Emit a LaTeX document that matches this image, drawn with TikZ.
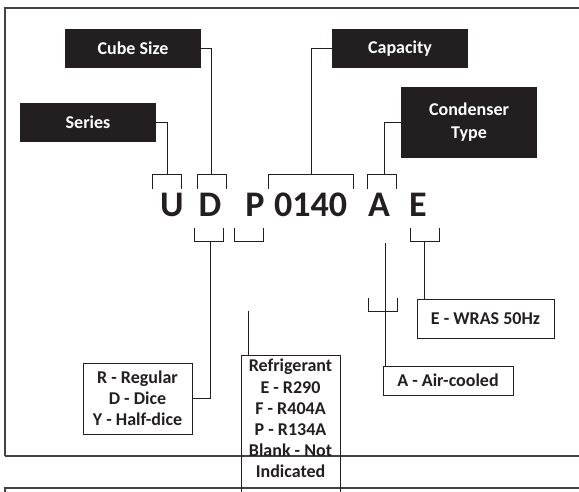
\documentclass[tikz,border=0pt]{standalone}
\usepackage{fontspec}
\setmainfont{Carlito}
\definecolor{ink}{HTML}{231F20}
\tikzset{
  blackbox/.style={fill=ink, text=white, font=\fontsize{18}{23}\selectfont\bfseries, minimum width=136pt, minimum height=39pt, inner sep=0pt, align=center},
  whitebox/.style={draw=ink, line width=1pt, fill=white, text=ink, font=\fontsize{18}{21}\selectfont\bfseries, inner sep=0pt, align=center},
  conn/.style={draw=ink, line width=1pt},
  framel/.style={draw=ink!85, line width=1.4pt},
  bigletter/.style={font=\fontsize{36}{40}\selectfont\bfseries, text=ink, anchor=base, inner sep=0pt}
}
\begin{document}
\begin{tikzpicture}[x=1pt,y=-1pt]
\useasboundingbox (0,0) rectangle (579,492);
% frame
\draw[framel] (5,456) -- (5,8) -- (580,8);
\draw[framel] (5,456) -- (580,456);
\draw[framel] (5,493) -- (5,488) -- (580,488);

% black label boxes
\node[blackbox] (cube) at (133,48.5) {Cube Size};
\node[blackbox] (series) at (88,122.5) {Series};
\node[blackbox] (capacity) at (400,48.5) {Capacity};
\node[blackbox, minimum height=71pt] (cond) at (469,122.5) {Condenser\\Type};

% code letters
\node[bigletter] (U) at (172,217) {U};
\node[bigletter] (D) at (210,217) {D};
\node[bigletter] (P) at (255,217) {P};
\node[bigletter] (num) at (310.5,217) {0140};
\node[bigletter] (A) at (379,217) {A};
\node[bigletter] (E) at (418,217) {E};

% top brackets
\draw[conn] (152,189) -- (152,175) -- (181,175) -- (181,189);
\draw[conn] (197,189) -- (197,175) -- (226,175) -- (226,189);
\draw[conn] (268,189) -- (268,175) -- (353,175) -- (353,189);
\draw[conn] (367,189) -- (367,175) -- (396,175) -- (396,189);
\coordinate (utop) at (167,175);
\coordinate (dtop) at (211,175);
\coordinate (ntop) at (311,175);
\coordinate (atop) at (384,175);

\draw[conn] (series.east) -| (utop);
\draw[conn] (cube.east) -| (dtop);
\draw[conn] (capacity.west) -| (ntop);
\draw[conn] (cond.west) -| (atop);

% bottom brackets
\draw[conn] (194,228) -- (194,242) -- (223,242) -- (223,228);
\draw[conn] (234,228) -- (234,242) -- (263,242) -- (263,228);
\draw[conn] (410,228) -- (410,242) -- (439,242) -- (439,228);
\coordinate (dbot) at (210,242);
\coordinate (ebot) at (424,242);
\coordinate (abot) at (385,243);

% option boxes
\node[whitebox, minimum width=109pt, minimum height=71pt] (rr) at (137.5,398.5) {R - Regular\\D - Dice\\Y - Half-dice};
\node[whitebox, minimum width=137pt, minimum height=39pt] (wras) at (485.5,318.5) {E - WRAS 50Hz};
\node[whitebox, minimum width=130pt, minimum height=29pt] (air) at (448,380.5) {A - Air-cooled};

\draw[conn] (dbot) |- (rr.east);
\draw[conn] (ebot) -- (ebot |- wras.north);
\draw[conn] (abot) -- (abot |- air.north);
\draw[conn] (368,298) -- (368,311) -- (397,311) -- (397,298);

% refrigerant box (cut off at the bottom)
\draw[conn] (241,493) -- (241,355) -- (340,355) -- (340,493);
\coordinate (rtop) at (248,355);
\coordinate (rfree) at (248,311);
\draw[conn] (rfree) -- (rtop);
\node[text=ink, font=\fontsize{18}{21.2}\selectfont\bfseries, align=center, anchor=north, inner sep=0pt] (refr) at (290.5,359) {Refrigerant\\E - R290\\F - R404A\\P - R134A\\Blank - Not\\Indicated};
\end{tikzpicture}
\end{document}
